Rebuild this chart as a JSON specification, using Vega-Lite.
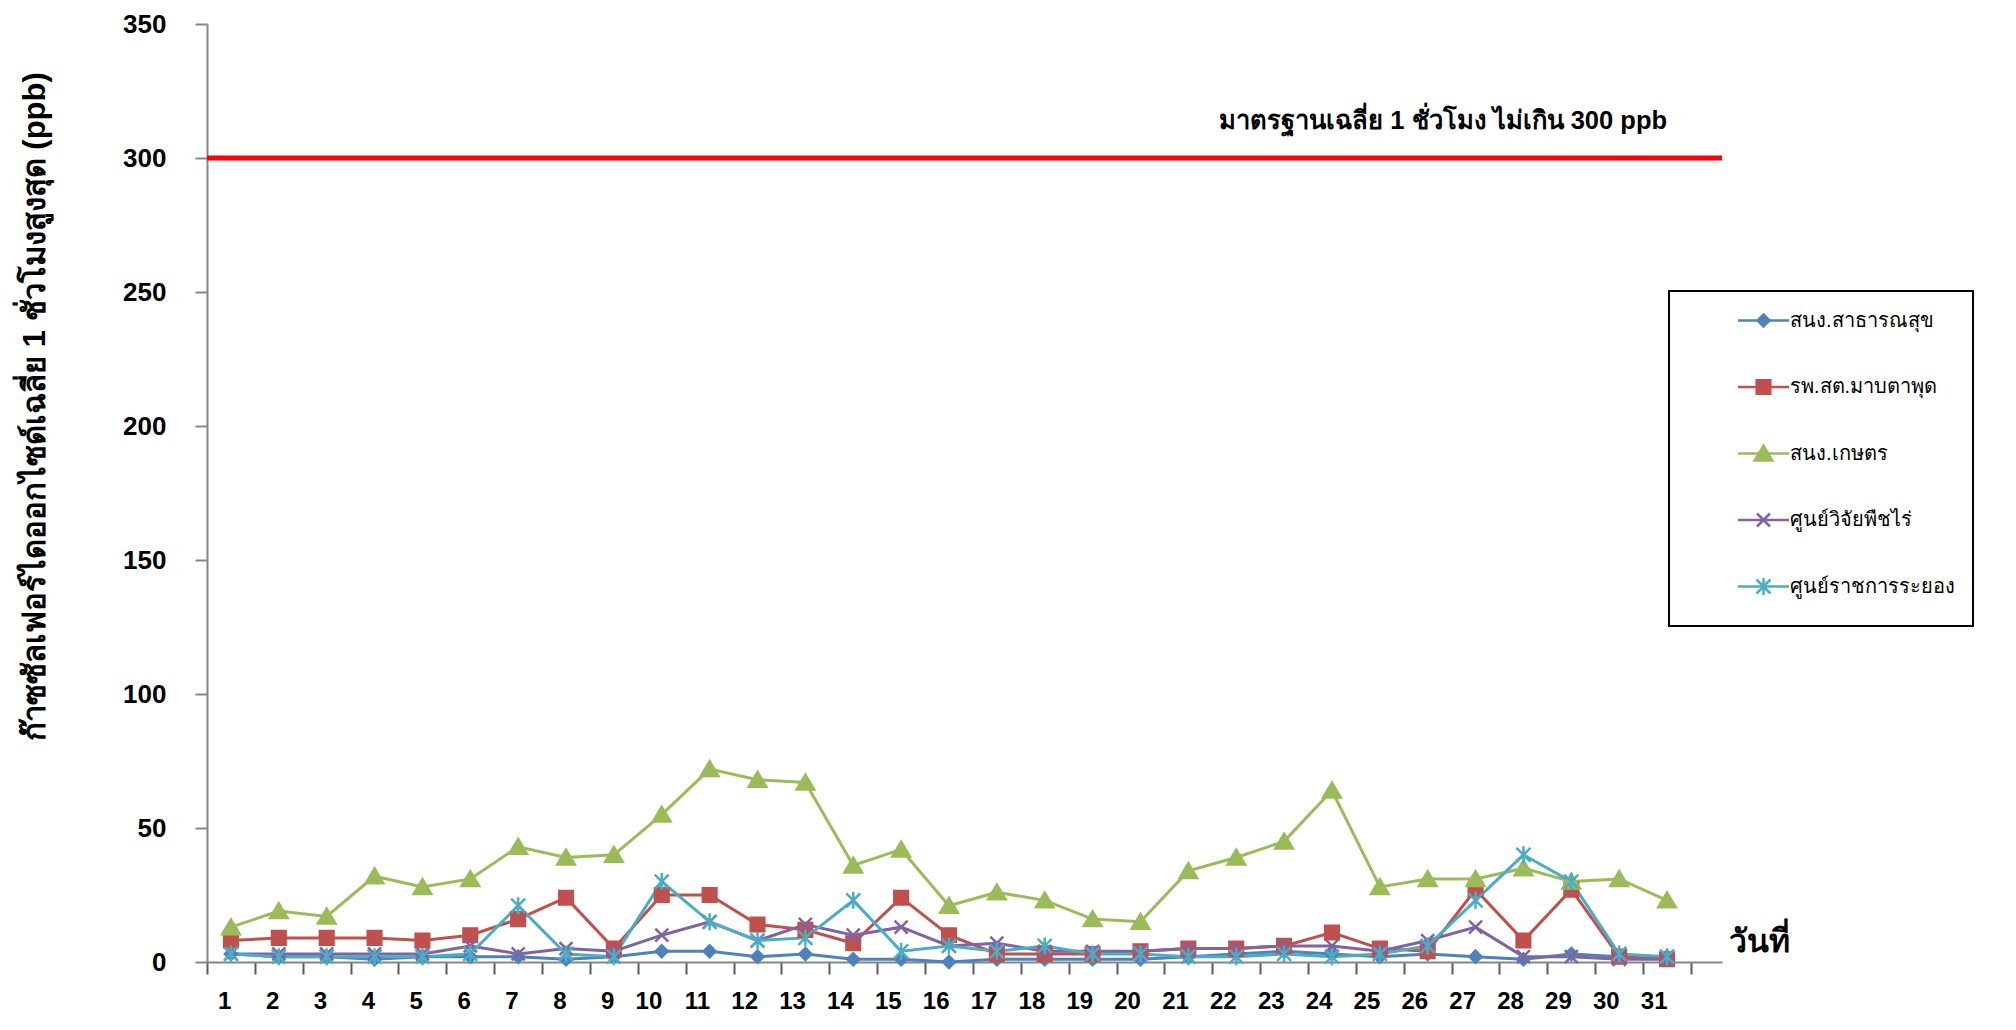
{
  "$schema": "https://vega.github.io/schema/vega-lite/v6.json",
  "width": 1515,
  "height": 938,
  "autosize": {"type": "none"},
  "padding": {"left": 207, "top": 24, "right": 294, "bottom": 68},
  "background": "white",
  "config": {"view": {"stroke": null}, "font": "Liberation Sans", "legend": {"strokeWidth": 2}},
  "datasets": {
    "obs": [
      {"day": 1, "a": 3, "b": 8, "c": 13, "d": 3, "e": 3},
      {"day": 2, "a": 2, "b": 9, "c": 19, "d": 3, "e": 2},
      {"day": 3, "a": 2, "b": 9, "c": 17, "d": 3, "e": 2},
      {"day": 4, "a": 1, "b": 9, "c": 32, "d": 3, "e": 2},
      {"day": 5, "a": 2, "b": 8, "c": 28, "d": 3, "e": 2},
      {"day": 6, "a": 2, "b": 10, "c": 31, "d": 6, "e": 3},
      {"day": 7, "a": 2, "b": 16, "c": 43, "d": 3, "e": 21},
      {"day": 8, "a": 1, "b": 24, "c": 39, "d": 5, "e": 3},
      {"day": 9, "a": 2, "b": 5, "c": 40, "d": 4, "e": 2},
      {"day": 10, "a": 4, "b": 25, "c": 55, "d": 10, "e": 30},
      {"day": 11, "a": 4, "b": 25, "c": 72, "d": 15, "e": 15},
      {"day": 12, "a": 2, "b": 14, "c": 68, "d": 8, "e": 8},
      {"day": 13, "a": 3, "b": 12, "c": 67, "d": 14, "e": 9},
      {"day": 14, "a": 1, "b": 7, "c": 36, "d": 10, "e": 23},
      {"day": 15, "a": 1, "b": 24, "c": 42, "d": 13, "e": 4},
      {"day": 16, "a": 0, "b": 10, "c": 21, "d": 6, "e": 6},
      {"day": 17, "a": 1, "b": 3, "c": 26, "d": 7, "e": 4},
      {"day": 18, "a": 1, "b": 3, "c": 23, "d": 4, "e": 6},
      {"day": 19, "a": 1, "b": 3, "c": 16, "d": 4, "e": 3},
      {"day": 20, "a": 1, "b": 4, "c": 15, "d": 4, "e": 3},
      {"day": 21, "a": 2, "b": 5, "c": 34, "d": 5, "e": 2},
      {"day": 22, "a": 3, "b": 5, "c": 39, "d": 5, "e": 2},
      {"day": 23, "a": 4, "b": 6, "c": 45, "d": 6, "e": 3},
      {"day": 24, "a": 3, "b": 11, "c": 64, "d": 6, "e": 2},
      {"day": 25, "a": 2, "b": 5, "c": 28, "d": 4, "e": 3},
      {"day": 26, "a": 3, "b": 4, "c": 31, "d": 8, "e": 6},
      {"day": 27, "a": 2, "b": 27, "c": 31, "d": 13, "e": 23},
      {"day": 28, "a": 1, "b": 8, "c": 35, "d": 2, "e": 40},
      {"day": 29, "a": 3, "b": 27, "c": 30, "d": 2, "e": 30},
      {"day": 30, "a": 2, "b": 2, "c": 31, "d": 1, "e": 3},
      {"day": 31, "a": 2, "b": 1, "c": 23, "d": 1, "e": 2}
    ],
    "stations": [
      {"key": "a", "order": 1, "station": "สนง.สาธารณสุข"},
      {"key": "b", "order": 2, "station": "รพ.สต.มาบตาพุด"},
      {"key": "c", "order": 3, "station": "สนง.เกษตร"},
      {"key": "d", "order": 4, "station": "ศูนย์วิจัยพืชไร่"},
      {"key": "e", "order": 5, "station": "ศูนย์ราชการระยอง"}
    ],
    "std": [
      {"day": 31, "value": 300, "label": "มาตรฐานเฉลี่ย 1 ชั่วโมง ไม่เกิน 300 ppb"}
    ]
  },
  "layer": [
    {
      "data": {"name": "std"},
      "mark": {"type": "rule", "color": "#FF0000", "strokeWidth": 5},
      "encoding": {
        "y": {"field": "value", "type": "quantitative"}
      }
    },
    {
      "data": {"name": "std"},
      "mark": {"type": "text", "align": "right", "baseline": "alphabetic", "dy": -29, "fontSize": 25.5, "fontWeight": "bold", "color": "black"},
      "encoding": {
        "x": {"field": "day", "type": "ordinal"},
        "y": {"field": "value", "type": "quantitative"},
        "text": {"field": "label"}
      }
    },
    {
      "data": {"name": "obs"},
      "transform": [
        {"fold": ["a", "b", "c", "d", "e"], "as": ["key", "value"]},
        {"lookup": "key", "from": {"data": {"name": "stations"}, "key": "key", "fields": ["station", "order"]}}
      ],
      "layer": [
        {
          "mark": {"type": "line", "strokeWidth": 3},
          "encoding": {
            "x": {
              "field": "day",
              "type": "ordinal",
              "scale": {"type": "band", "paddingInner": 0, "paddingOuter": 0.324, "align": 0},
              "axis": {
                "title": "วันที่",
                "titleX": 1521,
                "titleY": -11,
                "titleAlign": "left",
                "titleBaseline": "alphabetic",
                "titleFontSize": 32,
                "titleFontWeight": "bold",
                "titleColor": "black",
                "tickBand": "extent",
                "tickSize": 12,
                "tickWidth": 2,
                "tickColor": "#5A5A5A",
                "domainColor": "#868686",
                "domainWidth": 2,
                "labelAngle": 0,
                "labelFont": "Liberation Sans",
                "labelFontSize": 24,
                "labelFontWeight": "bold",
                "labelColor": "black",
                "labelPadding": 27,
                "labelOverlap": false,
                "labelFlush": false,
                "grid": false
              }
            },
            "y": {
              "field": "value",
              "type": "quantitative",
              "scale": {"domain": [0, 350], "nice": false},
              "axis": {
                "values": [0, 50, 100, 150, 200, 250, 300, 350],
                "title": "ก๊าซซัลเฟอร์ไดออกไซด์เฉลี่ย 1 ชั่วโมงสูงสุด (ppb)",
                "titleAngle": -90,
                "titleX": -172,
                "titleY": 382,
                "titleAlign": "center",
                "titleBaseline": "middle",
                "titleFontSize": 31,
                "titleFontWeight": "bold",
                "titleColor": "black",
                "tickSize": 12,
                "tickWidth": 2,
                "tickColor": "#868686",
                "domainColor": "#868686",
                "domainWidth": 2,
                "labelFont": "Liberation Sans",
                "labelFontSize": 26,
                "labelFontWeight": "bold",
                "labelColor": "black",
                "labelPadding": 29,
                "grid": false
              }
            },
            "color": {
              "field": "station",
              "type": "nominal",
              "scale": {
                "domain": ["สนง.สาธารณสุข", "รพ.สต.มาบตาพุด", "สนง.เกษตร", "ศูนย์วิจัยพืชไร่", "ศูนย์ราชการระยอง"],
                "range": ["#4F81BD", "#C0504D", "#9BBB59", "#8064A2", "#4BACC6"]
              },
              "legend": {
                "title": null,
                "orient": "none",
                "legendX": 1462,
                "legendY": 267,
                "padding": 18,
                "rowPadding": 23.5,
                "labelFont": "Liberation Sans",
                "labelFontSize": 20,
                "labelColor": "black",
                "labelLimit": 0,
                "strokeColor": "black",
                "symbolType": "M-2.55,0L2.55,0M0,-1.6M0,1.6",
                "symbolSize": 400,
                "symbolOffset": 65,
                "labelOffset": 15,
                "symbolStrokeWidth": 2.5
              }
            }
          }
        },
        {
          "mark": {"type": "point", "filled": true, "opacity": 1, "size": 400, "strokeWidth": 2.5},
          "encoding": {
            "x": {"field": "day", "type": "ordinal"},
            "y": {"field": "value", "type": "quantitative"},
            "fill": {
              "field": "station",
              "type": "nominal",
              "sort": {"field": "order", "op": "min"},
              "scale": {"range": ["#4F81BD", "#C0504D", "#9BBB59", "#8064A2", "#4BACC6"]},
              "legend": {
                "title": null,
                "orient": "none",
                "legendX": 1462,
                "legendY": 267,
                "padding": 18,
                "rowPadding": 23.5,
                "labelFont": "Liberation Sans",
                "labelFontSize": 20,
                "labelExpr": "''",
                "labelLimit": 0,
                "symbolSize": 400,
                "symbolOffset": 65,
                "labelOffset": 15,
                "symbolStrokeWidth": 2.5
              }
            },
            "stroke": {
              "field": "station",
              "type": "nominal",
              "sort": {"field": "order", "op": "min"},
              "scale": {"range": ["#4F81BD", "#C0504D", "#9BBB59", "#8064A2", "#4BACC6"]}
            },
            "shape": {
              "field": "station",
              "type": "nominal",
              "sort": {"field": "order", "op": "min"},
              "scale": {
                "range": ["M0,-0.6L0.6,0L0,0.6L-0.6,0ZM0,-1.6M0,1.6", "M-0.68,-0.68L0.68,-0.68L0.68,0.68L-0.68,0.68ZM0,-1.6M0,1.6", "M0,-0.78L0.88,0.7L-0.88,0.7ZM0,-1.6M0,1.6", "M-0.65,-0.65L0.65,0.65M-0.65,0.65L0.65,-0.65M0,-1.6M0,1.6", "M-0.7,-0.7L0.7,0.7M-0.7,0.7L0.7,-0.7M0,-0.85L0,0.85M0,-1.6M0,1.6"]
              }
            }
          }
        }
      ]
    }
  ]
}
